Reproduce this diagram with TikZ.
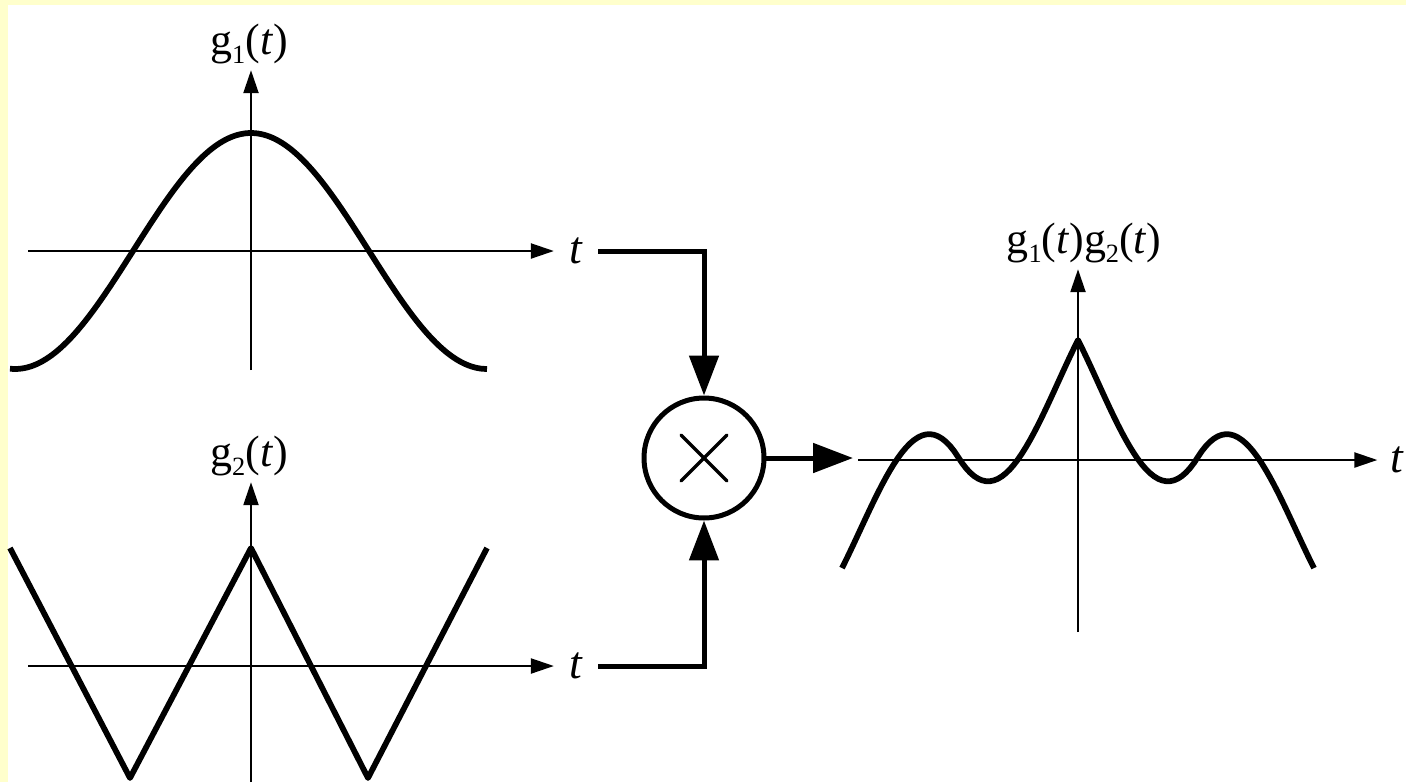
\documentclass[tikz,border=0pt]{standalone}
\usepackage{fontspec}
\setmainfont{Liberation Serif}
\usetikzlibrary{arrows.meta}
\definecolor{pagebg}{HTML}{FFFFCC}
\newcommand{\gsub}[1]{\raisebox{-5pt}{\fontsize{15}{17}\selectfont#1}}
\begin{document}
\begin{tikzpicture}[x=0.02cm,y=-0.02cm,
  axis/.style={line width=0.045cm,-{Triangle[length=0.46cm,width=0.3cm]}},
  curve/.style={line width=0.115cm,line join=round},
  conn/.style={line width=0.1cm,-{Triangle[length=0.8cm,width=0.58cm]}},
  lab/.style={font=\fontsize{25}{29}\selectfont},
  tlab/.style={font=\fontsize{26}{30}\selectfont,inner xsep=0.3cm}]
\useasboundingbox (0,0) rectangle (1406,782);
\fill[pagebg] (0,0) rectangle (1406,782);
\fill[white] (8,5) rectangle (1406,782);

\coordinate (o1) at (251,251);
\coordinate (o2) at (251,666);
\coordinate (o3) at (1078,460);

\node[lab] (g1lab) at (249,44) {g\gsub{1}(\textit{t})};
\node[tlab] (t1) at (576,251) {\textit{t}};
\draw[axis] (251,370) -- (g1lab.south -| o1);
\draw[axis] (28,251) -- (t1.west);
\draw[curve] plot[domain=10:487,samples=80,smooth] (\x,{251-118*cos((\x-251)/236*180)});

\node[lab] (g2lab) at (249,456) {g\gsub{2}(\textit{t})};
\node[tlab] (t2) at (576,666) {\textit{t}};
\draw[axis] (251,782) -- (g2lab.south -| o2);
\draw[axis] (28,666) -- (t2.west);
\draw[curve] (10,548) -- (130,778) -- (251,548) -- (368,778) -- (487,548);

\node[draw,circle,line width=0.1cm,minimum size=2.4cm] (mult) at (704,458) {};
\draw[line width=0.07cm,line cap=round] ([shift={(-23,-23)}]mult.center) -- ([shift={(23,23)}]mult.center);
\draw[line width=0.07cm,line cap=round] ([shift={(-23,23)}]mult.center) -- ([shift={(23,-23)}]mult.center);
\draw[conn] (t1.east) -| (mult.north);
\draw[conn] (t2.east) -| (mult.south);
\coordinate (p3in) at (853,458);
\draw[conn] (mult.east) -- (p3in);

\node[lab] (pglab) at (1084,243) {g\gsub{1}(\textit{t})g\gsub{2}(\textit{t})};
\node[tlab,inner xsep=0.25cm] (t3) at (1397,460) {\textit{t}};
\draw[axis] (1078,632) -- (pglab.south -| o3);
\draw[axis] (858,460) -- (t3.west);
\draw[curve] plot[domain=842:1314,samples=119] (\x,{460-120*cos((\x-1078)/236*180)*(2*abs(2*abs(\x-1078)/242-1)-1)});
\end{tikzpicture}
\end{document}
